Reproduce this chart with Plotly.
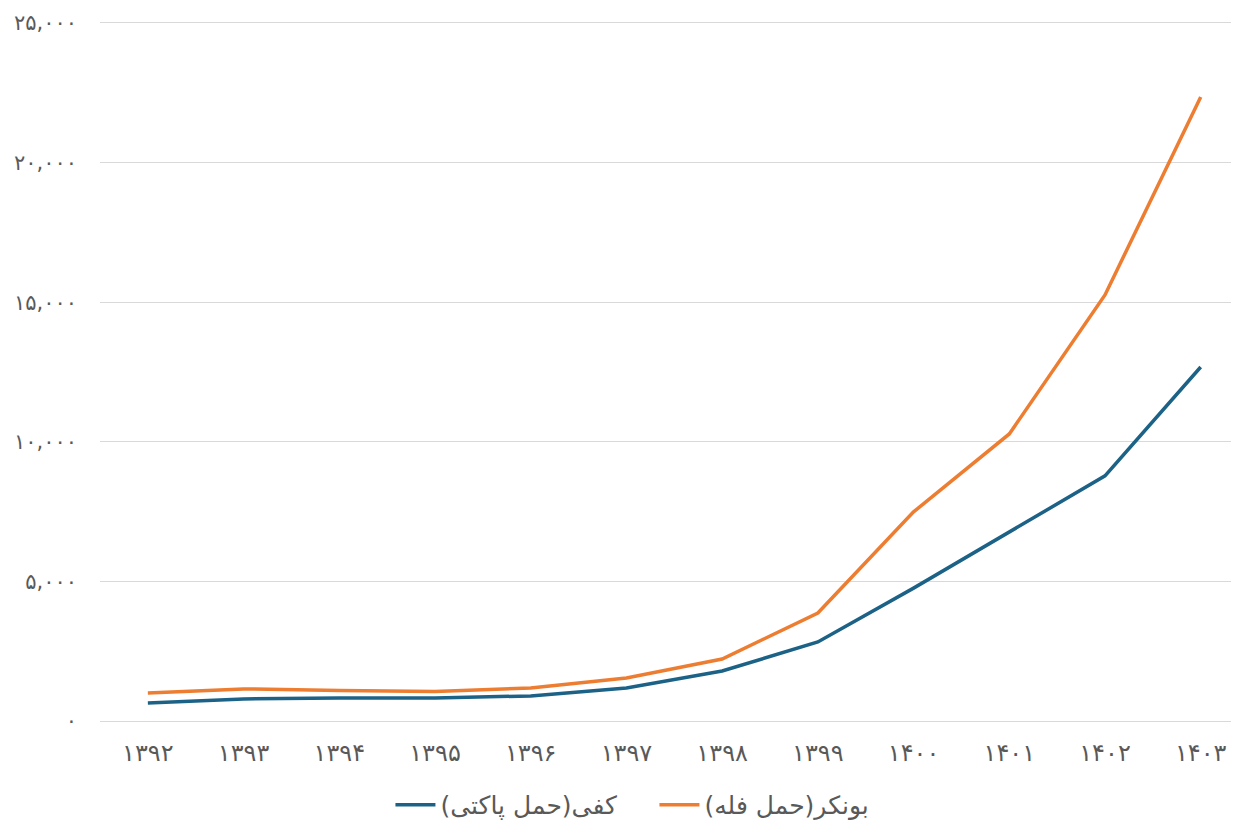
import plotly.graph_objects as go

years = ["۱۳۹۲", "۱۳۹۳", "۱۳۹۴", "۱۳۹۵", "۱۳۹۶", "۱۳۹۷",
         "۱۳۹۸", "۱۳۹۹", "۱۴۰۰", "۱۴۰۱", "۱۴۰۲", "۱۴۰۳"]
kafi = [645, 790, 820, 820, 900, 1180, 1790, 2830, 4760, 6770, 8780, 12680]
bunker = [1000, 1150, 1090, 1060, 1180, 1540, 2220, 3870, 7490, 10280, 15260, 22350]
y_tickvals = [0, 5000, 10000, 15000, 20000, 25000]
y_ticktext = ["۰", "۵,۰۰۰", "۱۰,۰۰۰", "۱۵,۰۰۰", "۲۰,۰۰۰", "۲۵,۰۰۰"]
series_names = ["کفی(حمل پاکتی)", "بونکر(حمل فله)"]

fig = go.Figure()
fig.add_trace(go.Scatter(x=years, y=kafi, mode="lines", name=series_names[0],
                         line=dict(color="#1c6286", width=3.5)))
fig.add_trace(go.Scatter(x=years, y=bunker, mode="lines", name=series_names[1],
                         line=dict(color="#ed7d31", width=3.5)))

font_family = "DejaVu Sans, Noto Sans, sans-serif"
fig.update_layout(
    width=1231, height=812,
    margin=dict(l=92, r=0, t=12, b=96, autoexpand=False),
    paper_bgcolor="white", plot_bgcolor="white",
    font=dict(family=font_family, color="#595959", size=20),
    showlegend=True,
    legend=dict(orientation="h", x=0.255, xanchor="left", y=-0.115, yanchor="middle",
                font=dict(size=25, color="#595959"), itemwidth=40,
                entrywidth=209, traceorder="normal"),
    xaxis=dict(type="category", range=[-0.5, 11.4], showgrid=False, zeroline=False,
               showline=False, ticks="", tickfont=dict(size=24, color="#595959"),
               ticklabelstandoff=12, automargin=False),
    yaxis=dict(range=[-107, 25107], tickvals=y_tickvals, ticktext=y_ticktext,
               showgrid=True, gridcolor="#d9d9d9", gridwidth=1, zeroline=False,
               showline=False, ticks="", tickfont=dict(size=21, color="#595959"),
               ticklabelstandoff=22, automargin=False),
)

fig.write_html("out.html")
